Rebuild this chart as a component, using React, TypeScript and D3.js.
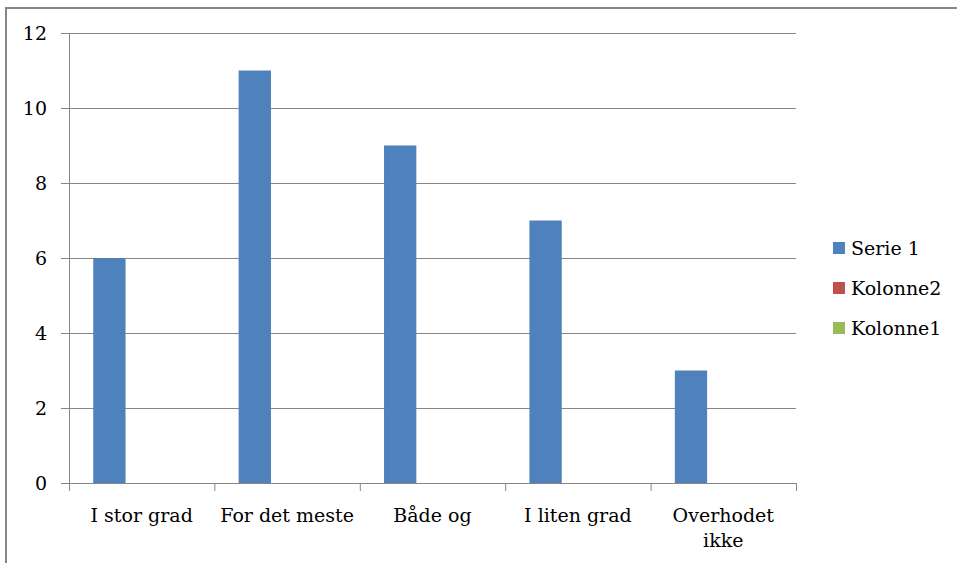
import React, { useEffect, useRef } from "react";
import * as d3 from "d3";

const categories = ["I stor grad", "For det meste", "Både og", "I liten grad", "Overhodet ikke"];
const categoryLines = [["I stor grad"], ["For det meste"], ["Både og"], ["I liten grad"], ["Overhodet", "ikke"]];
const serie1 = [6, 11, 9, 7, 3];
const kolonne2: (number | null)[] = [null, null, null, null, null];
const kolonne1: (number | null)[] = [null, null, null, null, null];
const seriesNames = ["Serie 1", "Kolonne2", "Kolonne1"];
const seriesColors = ["#4F81BD", "#C0504D", "#9BBB59"];
const yTicks = [0, 2, 4, 6, 8, 10, 12];

const W = 957;
const H = 563;
const FONT = "'DejaVu Serif', serif";
const FS = 19;

export default function App() {
  const ref = useRef<SVGSVGElement>(null);

  useEffect(() => {
    const svg = d3.select(ref.current);
    svg.selectAll("*").remove();

    const left = 69, right = 796, top = 33, bottom = 483;
    const x = d3.scaleBand<string>().domain(categories).range([left, right]).paddingInner(0).paddingOuter(0);
    const y = d3.scaleLinear().domain([0, 12]).range([bottom, top]);
    // Excel gap width 150%: band = 4.5 bar widths, 0.75 on each side
    const barW = x.bandwidth() / 4.5;
    const offset = (i: number) => barW * 0.75 + i * barW;

    // frame
    svg.append("line").attr("x1", 5).attr("x2", W).attr("y1", 8).attr("y2", 8).attr("stroke", "#868686").attr("stroke-width", 2);
    svg.append("line").attr("x1", 6).attr("x2", 6).attr("y1", 7).attr("y2", H).attr("stroke", "#868686").attr("stroke-width", 2);

    // gridlines
    svg.append("g").selectAll("line").data(yTicks.filter(t => t > 0)).join("line")
      .attr("x1", left - 8).attr("x2", right)
      .attr("y1", d => y(d) + 0.5).attr("y2", d => y(d) + 0.5)
      .attr("stroke", "#868686").attr("stroke-width", 1);

    // y tick labels
    svg.append("g").selectAll("text").data(yTicks).join("text")
      .attr("x", 47).attr("y", d => y(d)).attr("dy", "0.38em")
      .attr("text-anchor", "end").attr("font-family", FONT).attr("font-size", FS).attr("fill", "#000")
      .text(d => d);

    // bars
    const all = [serie1, kolonne2, kolonne1];
    all.forEach((vals, si) => {
      svg.append("g").selectAll("rect").data(vals.map((v, i) => ({ v, c: categories[i] })).filter(d => d.v != null)).join("rect")
        .attr("x", d => (x(d.c) as number) + offset(si))
        .attr("width", barW)
        .attr("y", d => y(d.v as number))
        .attr("height", d => y(0) - y(d.v as number))
        .attr("fill", seriesColors[si]);
    });

    // y axis
    svg.append("line").attr("x1", left + 0.5).attr("x2", left + 0.5).attr("y1", top).attr("y2", bottom)
      .attr("stroke", "#868686");
    // x axis with 0 tick stub
    svg.append("line").attr("x1", left - 8).attr("x2", right).attr("y1", bottom + 0.5).attr("y2", bottom + 0.5)
      .attr("stroke", "#868686");
    // x ticks at band boundaries
    const bounds = categories.map(c => x(c) as number).concat([right]);
    svg.append("g").selectAll("line").data(bounds).join("line")
      .attr("x1", d => d + 0.5).attr("x2", d => d + 0.5).attr("y1", bottom).attr("y2", bottom + 8)
      .attr("stroke", "#868686");

    // x labels
    const xl = svg.append("g").selectAll("text").data(categories).join("text")
      .attr("x", d => (x(d) as number) + x.bandwidth() / 2)
      .attr("y", 522)
      .attr("text-anchor", "middle").attr("font-family", FONT).attr("font-size", FS).attr("fill", "#000");
    xl.each(function (d, i) {
      const t = d3.select(this);
      categoryLines[i].forEach((ln, j) => {
        t.append("tspan").attr("x", (x(d) as number) + x.bandwidth() / 2).attr("dy", j === 0 ? 0 : 25).text(ln);
      });
    });

    // legend
    const lg = svg.append("g").selectAll("g").data(seriesNames).join("g")
      .attr("transform", (d, i) => `translate(833, ${248 + i * 40})`);
    lg.append("rect").attr("x", 0).attr("y", -6).attr("width", 12).attr("height", 12)
      .attr("fill", (d, i) => seriesColors[i]);
    lg.append("text").attr("x", 18).attr("y", 0).attr("dy", "0.38em")
      .attr("font-family", FONT).attr("font-size", FS).attr("fill", "#000").text(d => d);
  }, []);

  return (
    <svg ref={ref} width={W} height={H}
      style={{ position: "absolute", left: 0, top: 0, background: "#fff", display: "block" }} />
  );
}
